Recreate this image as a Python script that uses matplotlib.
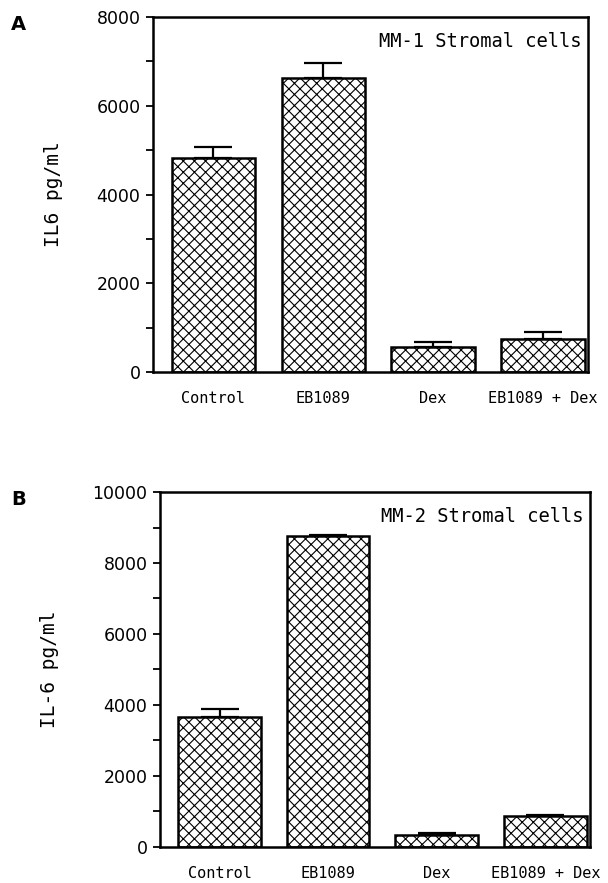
import matplotlib
matplotlib.use("Agg")
import matplotlib.pyplot as plt
from matplotlib.ticker import MultipleLocator

# data
groups = ["Control", "EB1089", "Dex", "EB1089 + Dex"]
mm1_vals = [4820, 6620, 560, 740]
mm1_err = [250, 340, 120, 160]
mm2_vals = [3650, 8750, 330, 880]
mm2_err = [230, 30, 50, 20]

plt.rcParams["hatch.linewidth"] = 0.8
plt.rcParams["font.family"] = "DejaVu Sans"
mono = "DejaVu Sans Mono"

fig = plt.figure(figsize=(6.08, 8.83), dpi=100)

panels = [
    ("A", [0.2516, 0.5787, 0.7155, 0.402], mm1_vals, mm1_err, 8000,
     "IL6 pg/ml", "MM-1 Stromal cells"),
    ("B", [0.263, 0.0408, 0.707, 0.402], mm2_vals, mm2_err, 10000,
     "IL-6 pg/ml", "MM-2 Stromal cells"),
]

x = list(range(len(groups)))
for letter, rect, vals, err, ymax, ylab, title in panels:
    ax = fig.add_axes(rect)
    ax.bar(x, vals, width=0.76, color="white", edgecolor="black",
           linewidth=1.8, hatch="xxx", zorder=2)
    ax.errorbar(x, vals, yerr=[[0] * len(vals), err], fmt="none",
                ecolor="black", elinewidth=1.6, capsize=14, capthick=1.6,
                zorder=1)
    ax.set_xlim(-0.55, 3.41)
    ax.set_ylim(0, ymax)
    ax.yaxis.set_major_locator(MultipleLocator(2000))
    ax.yaxis.set_minor_locator(MultipleLocator(1000))
    ax.tick_params(axis="y", which="both", direction="out", length=5,
                   width=1.3, labelsize=12.5, pad=4)
    ax.set_xticks(x)
    ax.set_xticklabels(groups, fontsize=11, family=mono)
    ax.tick_params(axis="x", length=0, pad=14)
    for s in ax.spines.values():
        s.set_linewidth(1.8)
    ax.set_ylabel(ylab, fontsize=14, family=mono, labelpad=24)
    ax.text(0.985, 0.93, title, transform=ax.transAxes, ha="right",
            va="center", fontsize=13.5, family=mono)
    fig.text(0.018, rect[1] + rect[3] - 0.008, letter, fontsize=14,
             fontweight="bold", va="center")

fig.savefig("out.png", dpi=100, facecolor="white")
